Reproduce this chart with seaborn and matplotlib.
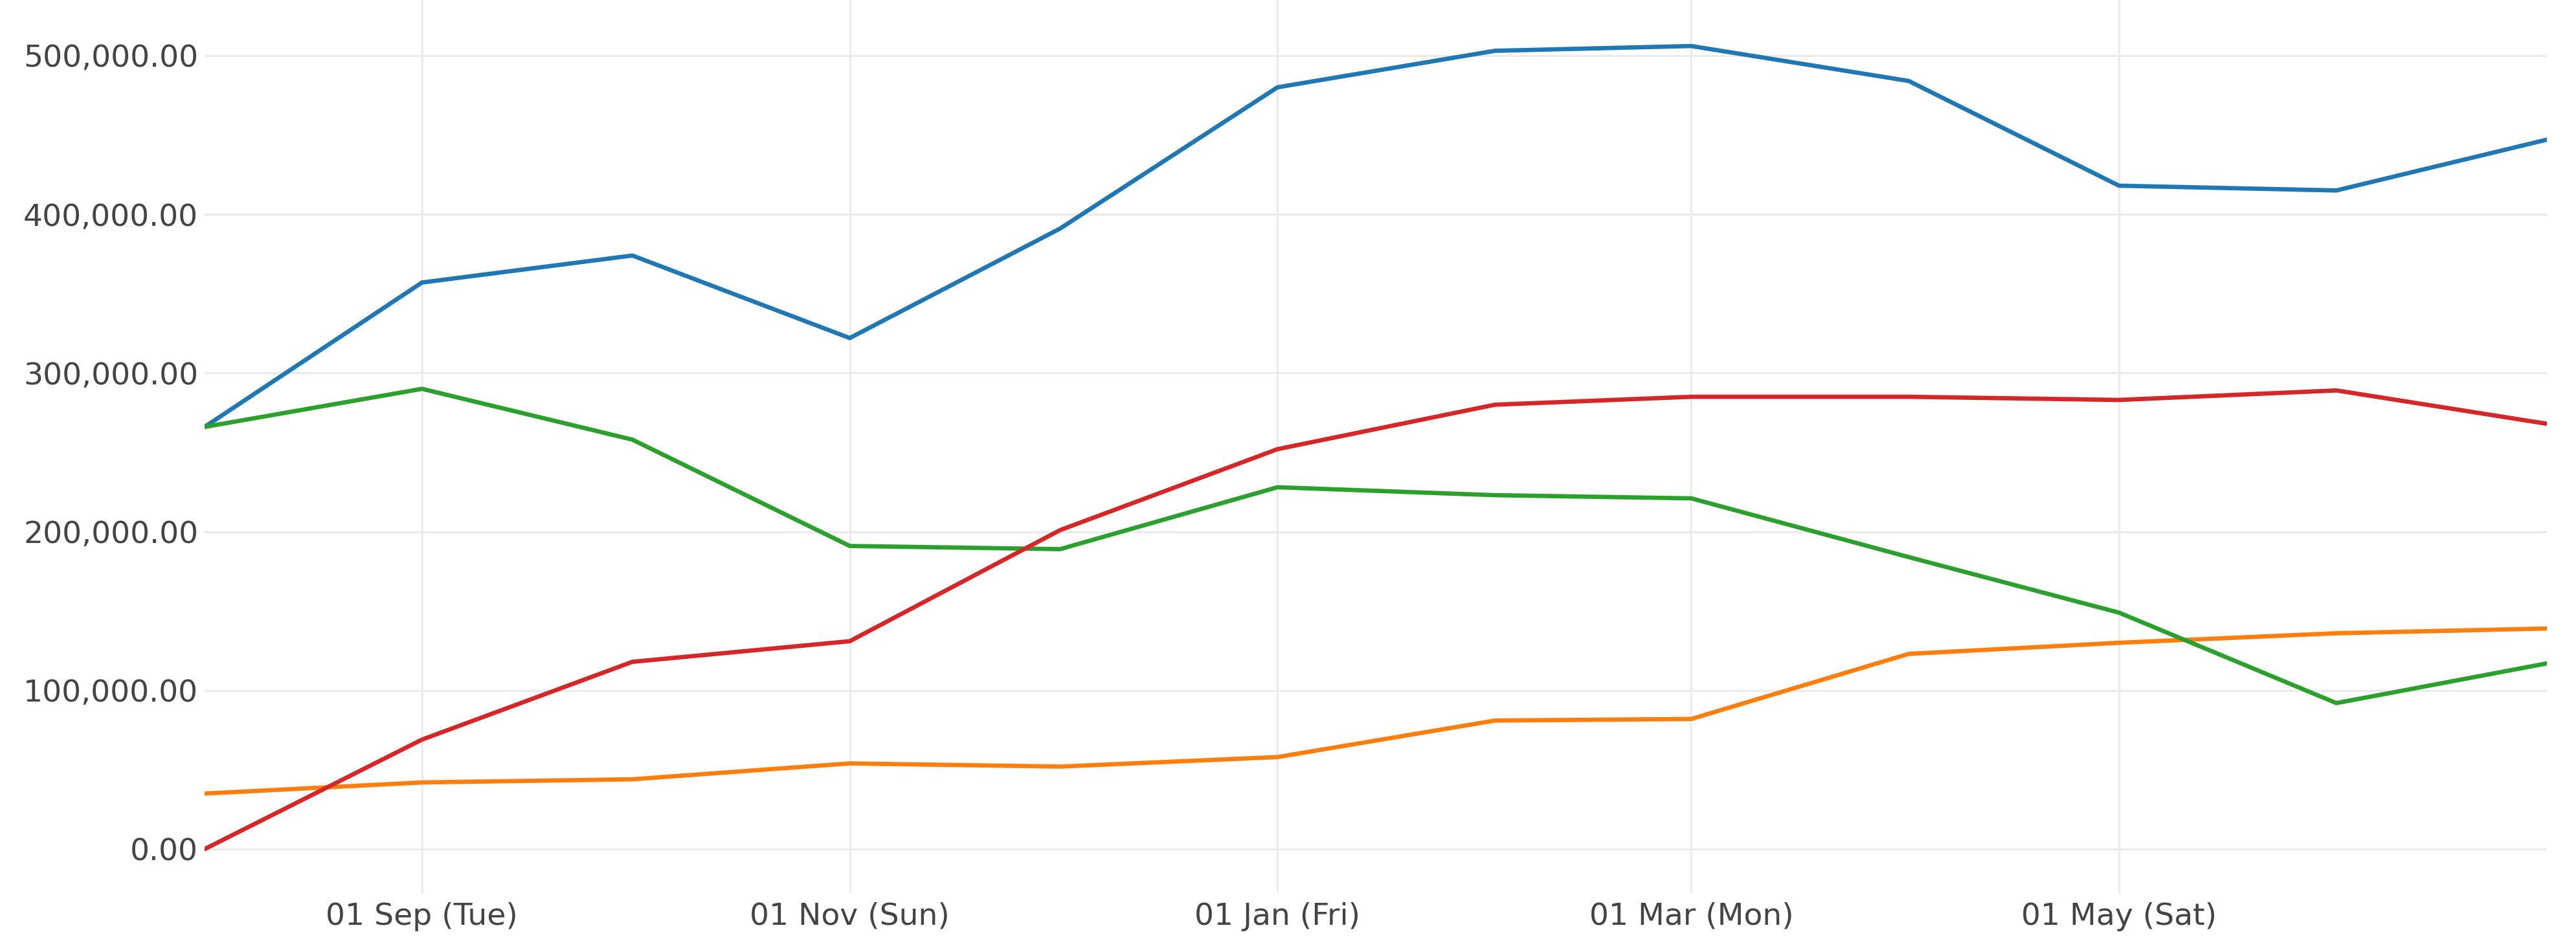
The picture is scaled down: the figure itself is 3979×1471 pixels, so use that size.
import pandas as pd
import matplotlib
matplotlib.use("Agg")
import matplotlib.pyplot as plt
import matplotlib.dates as mdates
from matplotlib.ticker import FuncFormatter
import seaborn as sns

# monthly values, Aug 2020 - Jul 2021
months = pd.date_range("2020-08-01", "2021-07-01", freq="MS")
blue_vals = [266000, 357000, 374000, 322000, 391000, 480000, 503000, 506000, 484000, 418000, 415000, 447000]
orange_vals = [35000, 42000, 44000, 54000, 52000, 58000, 81000, 82000, 123000, 130000, 136000, 139000]
green_vals = [266000, 290000, 258000, 191000, 189000, 228000, 223000, 221000, 184000, 149000, 92000, 117000]
red_vals = [0, 69000, 118000, 131000, 201000, 252000, 280000, 285000, 285000, 283000, 289000, 268000]

series_names = ["Series 1", "Series 2", "Series 3", "Series 4"]
series_colors = ["#1f77b4", "#ff7f0e", "#2ca02c", "#d62728"]
tick_dates = pd.to_datetime(["2020-09-01", "2020-11-01", "2021-01-01", "2021-03-01", "2021-05-01"])
y_ticks = [0, 100000, 200000, 300000, 400000, 500000]

df = pd.DataFrame({
    "month": list(months) * 4,
    "value": blue_vals + orange_vals + green_vals + red_vals,
    "series": [n for n in series_names for _ in months],
})

sns.set_style("white")
plt.rcParams["font.family"] = ["DejaVu Sans"]

fig = plt.figure(figsize=(39.8, 14.71), dpi=100)
ax = fig.add_axes([0.0794, 0.0619, 0.9090, 0.9381])

sns.lineplot(data=df, x="month", y="value", hue="series", hue_order=series_names,
             palette=series_colors, linewidth=4.8, legend=False, ax=ax, zorder=3)

ax.set_xlim(months[0], months[-1])
ax.set_ylim(-27700, 535000)
ax.set_xticks(tick_dates)
ax.xaxis.set_major_formatter(mdates.DateFormatter("%d %b (%a)"))
ax.set_yticks(y_ticks)
ax.yaxis.set_major_formatter(FuncFormatter(lambda v, p: f"{v:,.2f}"))

ax.grid(True, color="#ebebeb", linewidth=2.2, zorder=0)
ax.set_axisbelow(True)
for s in ax.spines.values():
    s.set_visible(False)
ax.tick_params(axis="both", length=0, labelsize=34, labelcolor="#444444")
ax.tick_params(axis="y", pad=7)
ax.tick_params(axis="x", pad=10)
ax.set_xlabel("")
ax.set_ylabel("")

fig.savefig("out.png", dpi=100, facecolor="white")
